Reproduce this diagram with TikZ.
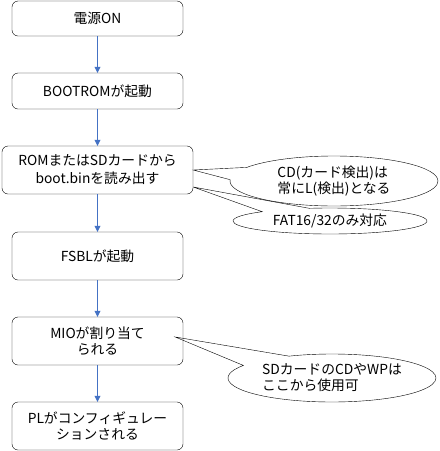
\documentclass[tikz,border=0pt]{standalone}
\usepackage{fontspec}
\setmainfont{Noto Sans CJK JP}
\usetikzlibrary{positioning,arrows.meta,shapes.geometric,shapes.callouts}
\definecolor{flowblue}{RGB}{68,114,196}
\tikzset{
    stepbox/.style={
        draw,
        rounded corners=6pt,
        align=center,
        inner sep=0pt,
        minimum width=171pt,
        minimum height=48pt
    },
    flow/.style={draw=flowblue, -{Triangle[length=6pt,width=6pt]}},
    note/.style={
        ellipse callout,
        draw,
        align=left,
        inner sep=0pt
    }
}

\begin{document}
\begin{tikzpicture}[x=1pt,y=-1pt,font=\fontsize{13.8}{16}\selectfont]
\useasboundingbox (0,0) rectangle (440,451);

% Flow
\node[stepbox, minimum height=35pt] (power) at (97.5,18.5) {電源ON};
\node[stepbox, minimum height=36pt] (bootrom) at (97.5,91) {BOOTROMが起動};
\node[stepbox, minimum width=191pt] (read) at (97.5,170)
{ROMまたはSDカードから\\[2pt]boot.binを読み出す};
\node[stepbox] (fsbl) at (97.5,256) {FSBLが起動};
\node[stepbox] (mio) at (97.5,341) {MIOが割り当て\\られる};
\node[stepbox] (pl) at (97.5,426) {PLがコンフィギュレー\\ションされる};

\draw[flow] (power) -- (bootrom);
\draw[flow] (bootrom) -- (read);
\draw[flow] (read) -- (fsbl);
\draw[flow] (fsbl) -- (mio);
\draw[flow] (mio) -- (pl);

% Notes
\node[note, minimum width=194pt, minimum height=26pt,
      callout pointer arc=32,
      callout absolute pointer={([yshift=-17pt]read.east)}] (fat) at (330,221)
{FAT16/32のみ対応};

\node[note, minimum width=208pt, minimum height=50pt,
      callout pointer arc=30,
      callout absolute pointer={(read.east)}] (cd) at (334,181)
{CD(カード検出)は\\常にL(検出)となる};

\node[note, minimum width=208pt, minimum height=48pt,
      callout pointer arc=34,
      callout absolute pointer={([xshift=-8pt,yshift=4pt]mio.east)}] (sdpin) at (332,378)
{SDカードのCDやWPは\\ここから使用可};

\end{tikzpicture}
\end{document}
